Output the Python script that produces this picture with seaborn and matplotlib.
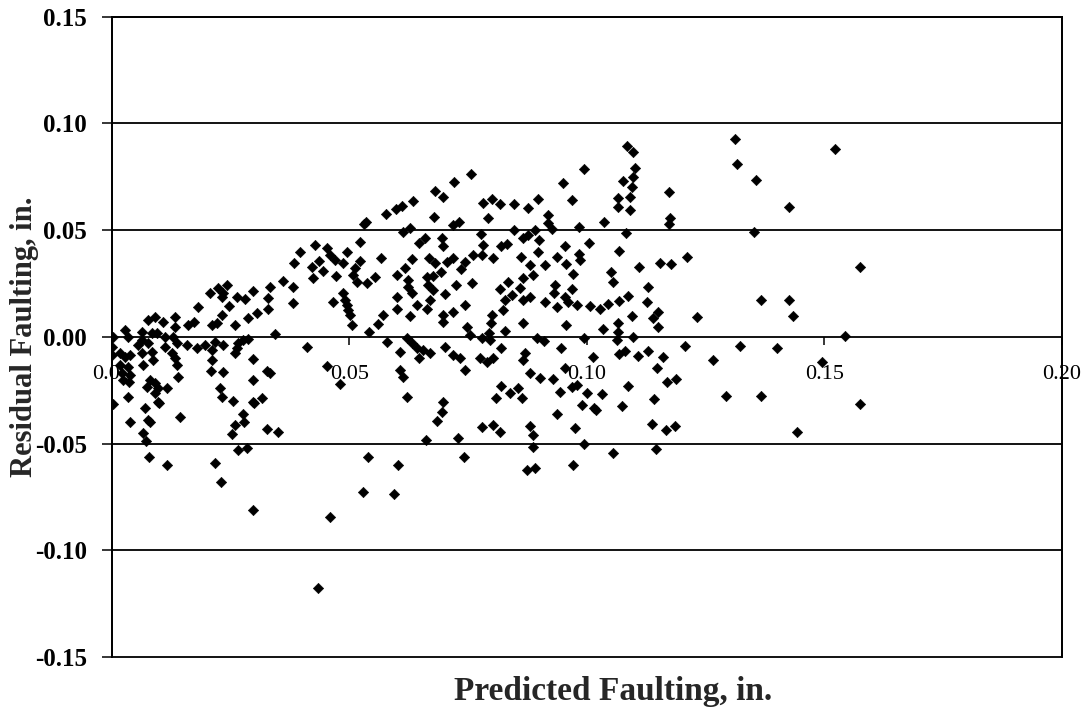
import matplotlib
matplotlib.use("Agg")
import matplotlib.pyplot as plt
from matplotlib.patches import Rectangle
import numpy as np
import pandas as pd
import seaborn as sns

# Predicted faulting (in.) and residual faulting (in.) for each section
predicted = [
    # low-faulting group
    0.0333, 0.0297, 0.0206, 0.0223, 0.0242, 0.0234, 0.0232, 0.0263, 0.0280, 0.0328,
    0.0181, 0.0246, 0.0328, 0.0305, 0.0232, 0.0286, 0.0091, 0.0107, 0.0076, 0.0133,
    0.0173, 0.0160, 0.0211, 0.0221, 0.0259, 0.0027, 0.0063, 0.0084, 0.0095, 0.0133,
    0.0112, 0.0343, 0.0002, 0.0034, 0.0063, 0.0076, 0.0128, 0.0137, 0.0158, 0.0179,
    0.0196, 0.0217, 0.0211, 0.0234, 0.0265, 0.0276, 0.0286, 0.0055, 0.0000, 0.0084,
    0.0112, 0.0126, 0.0263, 0.0259, 0.0000, 0.0017, 0.0027, 0.0038, 0.0063, 0.0086,
    0.0133, 0.0137, 0.0211, 0.0297, 0.0065, 0.0017, 0.0034, 0.0021, 0.0038, 0.0023,
    0.0036, 0.0208, 0.0234, 0.0139, 0.0326, 0.0333, 0.0297, 0.0080, 0.0091, 0.0074,
    0.0097, 0.0116, 0.0091, 0.0227, 0.0232, 0.0097, 0.0034, 0.0297, 0.0316, 0.0255,
    0.0002, 0.0038, 0.0069, 0.0076, 0.0080, 0.0065, 0.0072, 0.0078, 0.0099, 0.0116,
    0.0143, 0.0217, 0.0229, 0.0297, 0.0253, 0.0259, 0.0276, 0.0278, 0.0265, 0.0284,
    0.0299, 0.0326, 0.0349,
    # 0.035 - 0.07
    0.0680, 0.0634, 0.0611, 0.0598, 0.0577, 0.0678, 0.0535, 0.0531, 0.0613, 0.0627,
    0.0646, 0.0659, 0.0522, 0.0427, 0.0396, 0.0453, 0.0495, 0.0459, 0.0383, 0.0421,
    0.0436, 0.0469, 0.0486, 0.0522, 0.0566, 0.0632, 0.0667, 0.0680, 0.0444, 0.0512,
    0.0617, 0.0423, 0.0472, 0.0507, 0.0600, 0.0554, 0.0663, 0.0676, 0.0360, 0.0623,
    0.0516, 0.0537, 0.0381, 0.0623, 0.0665, 0.0632, 0.0676, 0.0486, 0.0465, 0.0491,
    0.0600, 0.0669, 0.0381, 0.0495, 0.0642, 0.0600, 0.0663, 0.0497, 0.0501, 0.0571,
    0.0627, 0.0505, 0.0560, 0.0541, 0.0411, 0.0579, 0.0621, 0.0632, 0.0642, 0.0655,
    0.0669, 0.0646, 0.0606, 0.0453, 0.0606, 0.0613, 0.0480, 0.0621, 0.0684, 0.0661,
    0.0539, 0.0602, 0.0459, 0.0434, 0.0528, 0.0594,
    # 0.07 - 0.10
    0.0994, 0.0756, 0.0720, 0.0949, 0.0697, 0.0968, 0.0781, 0.0800, 0.0817, 0.0846,
    0.0897, 0.0876, 0.0792, 0.0918, 0.0718, 0.0731, 0.0846, 0.0918, 0.0926, 0.0983,
    0.0695, 0.0777, 0.0865, 0.0891, 0.0876, 0.0899, 0.0697, 0.0781, 0.0819, 0.0832,
    0.0954, 0.1004, 0.0897, 0.0779, 0.0802, 0.0760, 0.0861, 0.0983, 0.0985, 0.0937,
    0.0718, 0.0705, 0.0743, 0.0735, 0.0956, 0.0880, 0.0912, 0.0693, 0.0971, 0.0886,
    0.0834, 0.0758, 0.0724, 0.0865, 0.0933, 0.0817, 0.0968, 0.0859, 0.0931, 0.0701,
    0.0842, 0.0827, 0.0865, 0.0880, 0.0954, 0.0960, 0.0979, 0.0912, 0.0937, 0.1006,
    0.0743, 0.0823, 0.0718, 0.0697, 0.0800, 0.0798, 0.0697, 0.0865, 0.0956, 0.0747,
    0.0754, 0.0827, 0.0794, 0.0779, 0.0796, 0.0895, 0.0909, 0.0994, 0.0701, 0.0819,
    0.0945, 0.0718, 0.0733, 0.0775, 0.0789, 0.0802, 0.0869, 0.0865, 0.1013, 0.0743,
    0.0880, 0.0901, 0.0928, 0.0954, 0.0968, 0.0979, 0.0943, 0.0819, 0.0838, 0.0855,
    0.0863, 0.0808, 0.1000, 0.0989, 0.1015, 0.0697, 0.0695, 0.0937, 0.0779, 0.0802,
    0.0817, 0.0880, 0.0886, 0.0975, 0.0728, 0.0886, 0.0994, 0.0741, 0.0971, 0.0874,
    0.0891,
    # 0.10 - 0.13
    0.1084, 0.1097, 0.1101, 0.1097, 0.1076, 0.1095, 0.1173, 0.1065, 0.1091, 0.1065,
    0.1091, 0.1175, 0.1173, 0.1036, 0.1082, 0.1067, 0.1109, 0.1154, 0.1177, 0.1211,
    0.1051, 0.1055, 0.1128, 0.1126, 0.1086, 0.1067, 0.1044, 0.1027, 0.1095, 0.1149,
    0.1139, 0.1149, 0.1232, 0.1034, 0.1065, 0.1065, 0.1063, 0.1097, 0.1206, 0.1067,
    0.1080, 0.1107, 0.1128, 0.1160, 0.1265, 0.1147, 0.1168, 0.1187, 0.1086, 0.1032,
    0.1141, 0.1074, 0.1019, 0.1137, 0.1166, 0.1185, 0.1145, 0.1055,
    # above 0.13
    0.1312, 0.1522, 0.1316, 0.1356, 0.1425, 0.1352, 0.1575, 0.1366, 0.1425, 0.1434,
    0.1543, 0.1322, 0.1400, 0.1495, 0.1293, 0.1366, 0.1575, 0.1442,
]

residual = [
    # low-faulting group
    0.0234, 0.0215, 0.0206, 0.0229, 0.0243, 0.0206, 0.0187, 0.0187, 0.0178, 0.0182,
    0.0140, 0.0145, 0.0131, 0.0112, 0.0103, 0.0089, 0.0093, 0.0070, 0.0079, 0.0093,
    0.0070, 0.0056, 0.0056, 0.0065, 0.0056, 0.0033, 0.0023, 0.0019, 0.0019, 0.0047,
    0.0000, 0.0014, 0.0000, 0.0000, -0.0014, -0.0028, 0.0000, -0.0028, -0.0037, -0.0051,
    -0.0037, -0.0023, -0.0061, -0.0037, -0.0028, -0.0014, -0.0009, -0.0037, -0.0047, -0.0070,
    -0.0047, -0.0075, -0.0051, -0.0075, -0.0084, -0.0075, -0.0093, -0.0084, -0.0075, -0.0107,
    -0.0098, -0.0131, -0.0107, -0.0103, -0.0131, -0.0131, -0.0140, -0.0168, -0.0178, -0.0201,
    -0.0210, -0.0159, -0.0164, -0.0187, -0.0159, -0.0168, -0.0201, -0.0201, -0.0215, -0.0234,
    -0.0238, -0.0238, -0.0262, -0.0238, -0.0280, -0.0304, -0.0280, -0.0304, -0.0285, -0.0299,
    -0.0313, -0.0397, -0.0332, -0.0388, -0.0400, -0.0449, -0.0486, -0.0565, -0.0308, -0.0598,
    -0.0374, -0.0589, -0.0678, -0.0813, -0.0453, -0.0411, -0.0360, -0.0397, -0.0528, -0.0519,
    -0.0308, -0.0430, -0.0444,
    # 0.035 - 0.07
    0.0682, 0.0636, 0.0612, 0.0598, 0.0575, 0.0561, 0.0537, 0.0528, 0.0491, 0.0509,
    0.0439, 0.0463, 0.0444, 0.0430, 0.0397, 0.0416, 0.0397, 0.0383, 0.0346, 0.0327,
    0.0355, 0.0360, 0.0346, 0.0355, 0.0369, 0.0364, 0.0369, 0.0346, 0.0308, 0.0322,
    0.0322, 0.0276, 0.0285, 0.0290, 0.0290, 0.0280, 0.0280, 0.0285, 0.0262, 0.0266,
    0.0257, 0.0252, 0.0234, 0.0234, 0.0243, 0.0206, 0.0220, 0.0206, 0.0164, 0.0173,
    0.0187, 0.0173, 0.0159, 0.0150, 0.0150, 0.0131, 0.0131, 0.0126, 0.0103, 0.0103,
    0.0098, 0.0056, 0.0061, 0.0023, -0.0047, -0.0023, -0.0005, -0.0028, -0.0051, -0.0061,
    -0.0075, -0.0098, -0.0070, -0.0136, -0.0154, -0.0187, -0.0220, -0.0280, -0.0393, -0.0481,
    -0.0565, -0.0598, -0.0846, -0.1178, -0.0729, -0.0734,
    # 0.07 - 0.10
    0.0785, 0.0762, 0.0724, 0.0720, 0.0654, 0.0640, 0.0626, 0.0645, 0.0621, 0.0621,
    0.0645, 0.0603, 0.0556, 0.0570, 0.0523, 0.0537, 0.0500, 0.0533, 0.0505, 0.0514,
    0.0463, 0.0481, 0.0463, 0.0500, 0.0477, 0.0453, 0.0425, 0.0430, 0.0425, 0.0435,
    0.0425, 0.0439, 0.0397, 0.0383, 0.0369, 0.0383, 0.0374, 0.0388, 0.0360, 0.0374,
    0.0369, 0.0350, 0.0350, 0.0318, 0.0341, 0.0336, 0.0336, 0.0304, 0.0294, 0.0290,
    0.0257, 0.0252, 0.0243, 0.0276, 0.0243, 0.0224, 0.0224, 0.0229, 0.0206, 0.0201,
    0.0196, 0.0173, 0.0173, 0.0187, 0.0187, 0.0164, 0.0150, 0.0164, 0.0140, 0.0145,
    0.0150, 0.0126, 0.0117, 0.0103, 0.0103, 0.0065, 0.0070, 0.0065, 0.0056, 0.0047,
    0.0009, 0.0028, 0.0019, -0.0005, -0.0014, -0.0005, -0.0019, -0.0005, -0.0047, -0.0051,
    -0.0051, -0.0084, -0.0098, -0.0098, -0.0117, -0.0098, -0.0075, -0.0107, -0.0093, -0.0154,
    -0.0168, -0.0192, -0.0196, -0.0145, -0.0234, -0.0224, -0.0257, -0.0229, -0.0262, -0.0238,
    -0.0285, -0.0285, -0.0262, -0.0318, -0.0332, -0.0304, -0.0350, -0.0360, -0.0421, -0.0411,
    -0.0444, -0.0416, -0.0458, -0.0425, -0.0472, -0.0514, -0.0500, -0.0561, -0.0598, -0.0626,
    -0.0612,
    # 0.10 - 0.13
    0.0893, 0.0864, 0.0790, 0.0748, 0.0729, 0.0701, 0.0678, 0.0650, 0.0654, 0.0607,
    0.0593, 0.0556, 0.0528, 0.0537, 0.0486, 0.0402, 0.0327, 0.0346, 0.0341, 0.0374,
    0.0304, 0.0257, 0.0234, 0.0164, 0.0192, 0.0168, 0.0154, 0.0131, 0.0098, 0.0117,
    0.0089, 0.0047, 0.0093, 0.0037, 0.0065, 0.0023, -0.0014, 0.0000, -0.0042, -0.0079,
    -0.0065, -0.0089, -0.0065, -0.0093, -0.0107, -0.0145, -0.0210, -0.0196, -0.0229, -0.0266,
    -0.0290, -0.0322, -0.0341, -0.0407, -0.0435, -0.0416, -0.0523, -0.0542,
    # above 0.13
    0.0925, 0.0879, 0.0808, 0.0734, 0.0607, 0.0491, 0.0327, 0.0173, 0.0173, 0.0098,
    0.0005, -0.0042, -0.0051, -0.0117, -0.0276, -0.0276, -0.0313, -0.0444,
]

x_ticks = [0.00, 0.05, 0.10, 0.15, 0.20]
y_ticks = [-0.15, -0.10, -0.05, 0.00, 0.05, 0.10, 0.15]

df = pd.DataFrame({"Predicted": predicted, "Residual": residual})

sns.set_theme(style="white")
plt.rcParams["font.family"] = ["Liberation Serif", "DejaVu Serif"]

fig = plt.figure(figsize=(10.88, 7.12), dpi=100)
ax = fig.add_axes([0.1029, 0.0772, 0.8732, 0.8993])

sns.scatterplot(data=df, x="Predicted", y="Residual", marker="D", s=28,
                color="black", edgecolor="black", linewidth=0.4, ax=ax,
                zorder=4, legend=False)

ax.set_xlim(0.0, 0.20)
ax.set_ylim(-0.15, 0.15)

# horizontal gridlines
for yv in y_ticks:
    if yv not in (-0.15, 0.0, 0.15):
        ax.axhline(yv, color="black", lw=1.3, zorder=1)

# x axis crosses at zero; the plot area keeps a full border
for side in ["top", "right", "left"]:
    ax.spines[side].set_color("black")
    ax.spines[side].set_linewidth(1.3)
ax.spines["bottom"].set_position(("data", 0.0))
ax.spines["bottom"].set_color("black")
ax.spines["bottom"].set_linewidth(1.3)
ax.add_patch(Rectangle((0, 0), 1, 1, transform=ax.transAxes, fill=False,
                       ec="black", lw=1.3, zorder=3, clip_on=False))

ax.set_xticks(x_ticks)
ax.set_xticklabels([f"{v:.2f}" for v in x_ticks], fontsize=16)
ax.set_yticks(y_ticks)
ax.set_yticklabels([f"{v:.2f}" for v in y_ticks], fontsize=18, fontweight="bold")
ax.tick_params(axis="x", direction="out", length=6, width=1.1, pad=14,
               colors="black", bottom=True)
ax.tick_params(axis="y", direction="out", length=7, width=1.1, pad=11,
               colors="black", left=True)

ax.set_xlabel("Predicted Faulting, in.", fontsize=24, fontweight="bold")
ax.set_ylabel("Residual Faulting, in.", fontsize=22, fontweight="bold")
ax.xaxis.set_label_coords(0.527, -0.029)
ax.yaxis.set_label_coords(-0.077, 0.50)
ax.grid(False)

fig.savefig("out.png", dpi=100, facecolor="white")
